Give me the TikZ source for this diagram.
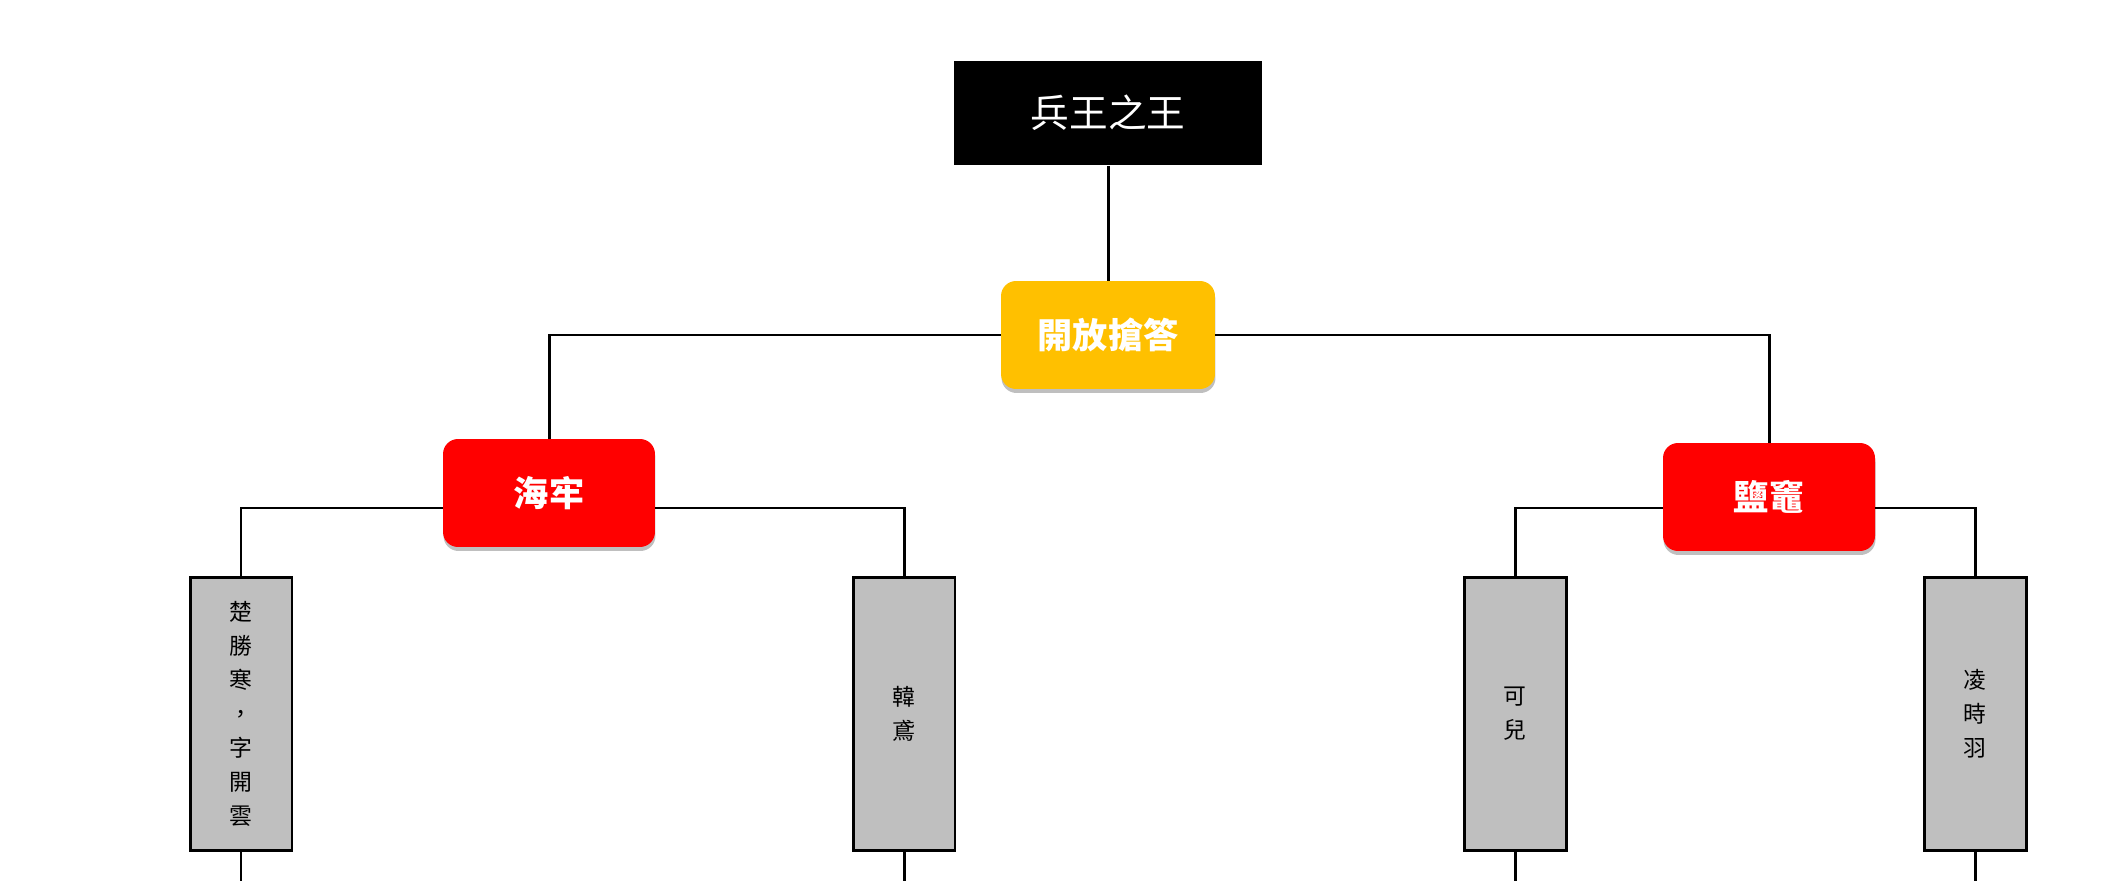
\documentclass[tikz,border=0pt]{standalone}
\usepackage{fontspec}
\newfontfamily\cjk{Noto Sans CJK TC}
\usepackage{xcolor}
\usepackage{tikz}
\usetikzlibrary{shadows}

\definecolor{quizgold}{HTML}{FFC000}
\definecolor{teamred}{HTML}{FF0000}
\definecolor{namegray}{HTML}{BFBFBF}

\tikzset{
    titlebox/.style={fill=black, text=white, minimum width=6.16cm, minimum height=2.1cm,
        font=\cjk\fontsize{22}{26}\selectfont},
    roundbox/.style={rounded corners=0.3cm, text=white, minimum height=2.16cm,
        font=\cjk\bfseries\fontsize{20}{24}\selectfont,
        drop shadow={shadow xshift=0.01cm, shadow yshift=-0.08cm, opacity=0.5}},
    namebox/.style={draw=black, line width=1.7pt, fill=namegray, minimum width=2.04cm,
        minimum height=5.48cm, align=center, font=\cjk\fontsize{13}{19.4}\selectfont},
    link/.style={line width=1.7pt},
}

\begin{document}
\begin{tikzpicture}[x=0.02cm, y=-0.02cm]
    \useasboundingbox (0,0) rectangle (2109,881);
    \coordinate (base) at (0,881);

    \node[titlebox] (king) at (1108,113) {兵王之王};
    \node[roundbox, fill=quizgold, minimum width=4.28cm] (open) at (1108,335) {開放搶答};
    \node[roundbox, fill=teamred, minimum width=4.24cm] (hai) at (549,493) {海牢};
    \node[roundbox, fill=teamred, minimum width=4.24cm] (yan) at (1769,497) {鹽竈};

    \node[namebox] (chu) at (241,714) {楚\\勝\\寒\\，\\字\\開\\雲};
    \node[namebox] (han) at (904,714) {韓\\鳶};
    \node[namebox] (ke) at (1515,714) {可\\兒};
    \node[namebox] (ling) at (1975,714) {凌\\時\\羽};

    \draw[link] (king) -- (open);
    \draw[link] (open.west) -| (hai.north);
    \draw[link] (open.east) -| (yan.north);
    \draw[link] ([yshift=-0.3cm]hai.west) -| (chu.north);
    \draw[link] ([yshift=-0.3cm]hai.east) -| (han.north);
    \draw[link] ([yshift=-0.22cm]yan.west) -| (ke.north);
    \draw[link] ([yshift=-0.22cm]yan.east) -| (ling.north);
    \foreach \n in {chu,han,ke,ling}
        \draw[link] (\n.south) -- (\n.south |- base);
\end{tikzpicture}
\end{document}
